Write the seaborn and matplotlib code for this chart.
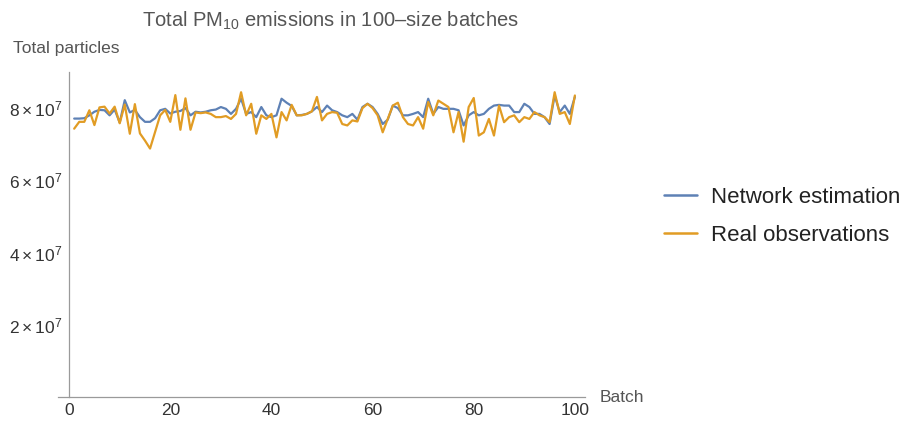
import matplotlib
matplotlib.use("Agg")
import matplotlib.pyplot as plt
import seaborn as sns
import pandas as pd
from matplotlib.ticker import MultipleLocator, FuncFormatter

# Batch index and totals (in units of 10^7 particles)
batches = list(range(1, 101))

network_1e7 = [
    7.71, 7.71, 7.72, 7.80, 7.90, 7.95, 7.94, 7.80, 7.96, 7.60,
    8.22, 7.88, 7.95, 7.75, 7.62, 7.62, 7.72, 7.94, 7.98, 7.85,
    7.90, 7.92, 8.00, 7.80, 7.90, 7.88, 7.90, 7.94, 7.96, 8.03,
    7.98, 7.84, 7.98, 8.26, 7.84, 7.89, 7.75, 8.03, 7.80, 7.75,
    7.80, 8.26, 8.15, 8.06, 7.80, 7.81, 7.84, 7.91, 8.03, 7.89,
    8.07, 7.94, 7.89, 7.80, 7.75, 7.84, 7.68, 8.03, 8.12, 8.03,
    7.84, 7.56, 7.68, 8.07, 8.00, 7.80, 7.80, 7.84, 7.89, 7.75,
    8.26, 7.84, 8.03, 7.98, 7.98, 7.98, 7.94, 7.52, 7.80, 7.89,
    7.80, 7.84, 7.98, 8.07, 8.09, 8.07, 8.07, 7.89, 7.89, 8.12,
    8.03, 7.84, 7.84, 7.75, 7.56, 8.35, 7.89, 8.07, 7.84, 8.31,
]

observed_1e7 = [
    7.43, 7.62, 7.62, 7.94, 7.53, 8.02, 8.04, 7.85, 8.04, 7.58,
    8.10, 7.29, 8.11, 7.30, 7.10, 6.88, 7.34, 7.80, 7.95, 7.62,
    8.36, 7.40, 8.27, 7.40, 7.88, 7.86, 7.88, 7.84, 7.75, 7.75,
    7.78, 7.70, 7.84, 8.44, 7.80, 8.12, 7.29, 7.80, 7.70, 7.84,
    7.19, 7.89, 7.66, 8.09, 7.80, 7.80, 7.84, 7.91, 8.31, 7.66,
    7.84, 7.89, 7.87, 7.56, 7.52, 7.66, 7.63, 8.00, 8.12, 8.00,
    7.80, 7.33, 7.70, 8.07, 8.15, 7.75, 7.56, 7.52, 7.75, 7.43,
    8.17, 7.80, 8.21, 8.12, 8.03, 7.33, 7.89, 7.07, 8.03, 8.28,
    7.24, 7.33, 7.70, 7.24, 8.07, 7.61, 7.75, 7.80, 7.61, 7.75,
    7.70, 7.89, 7.80, 7.75, 7.61, 8.44, 7.84, 7.89, 7.56, 8.35,
]

series_names = ["Network estimation", "Real observations"]
series_colors = ["#5E81B5", "#E19C24"]
SCALE = 1e7

df = pd.concat([
    pd.DataFrame({"Batch": batches,
                  "Total": [v * SCALE for v in network_1e7],
                  "Series": series_names[0]}),
    pd.DataFrame({"Batch": batches,
                  "Total": [v * SCALE for v in observed_1e7],
                  "Series": series_names[1]}),
])

sns.set_style("white")
plt.rcParams["font.family"] = ["Liberation Sans", "DejaVu Sans"]
plt.rcParams["mathtext.fontset"] = "custom"
plt.rcParams["mathtext.rm"] = "Liberation Sans"
plt.rcParams["mathtext.it"] = "Liberation Sans"

W, H = 911, 425
fig = plt.figure(figsize=(W / 100, H / 100), dpi=100)
ax = fig.add_axes([58 / W, 28 / H, 527 / W, 325 / H])

sns.lineplot(data=df, x="Batch", y="Total", hue="Series",
             palette=dict(zip(series_names, series_colors)),
             linewidth=1.6, ax=ax, legend=False)

ax.set_xlim(-2.2, 102)
ax.set_ylim(0, 9.0e7)

axis_gray = "#9a9a9a"
text_gray = "#333333"
for side in ("top", "right"):
    ax.spines[side].set_visible(False)
ax.spines["left"].set_position(("data", 0))
ax.spines["bottom"].set_position(("data", 0))
for side in ("left", "bottom"):
    ax.spines[side].set_color(axis_gray)
    ax.spines[side].set_linewidth(0.9)
ax.spines["left"].set_bounds(0, 9.0e7)

ax.xaxis.set_major_locator(MultipleLocator(20))
ax.xaxis.set_minor_locator(MultipleLocator(5))
ax.yaxis.set_major_locator(MultipleLocator(2e7))
ax.yaxis.set_minor_locator(MultipleLocator(0.5e7))


def sci_label(v, pos):
    if v <= 0:
        return ""
    return r"$%d\times10^{7}$" % round(v / 1e7)


ax.yaxis.set_major_formatter(FuncFormatter(sci_label))
ax.tick_params(axis="both", which="both", direction="in",
               color=axis_gray, labelcolor=text_gray, labelsize=12.5)
ax.tick_params(axis="both", which="major", length=5, width=0.9)
ax.tick_params(axis="both", which="minor", length=3, width=0.8)
ax.tick_params(axis="x", pad=4)
ax.tick_params(axis="y", pad=5)
ax.set_xlabel("")
ax.set_ylabel("")

fig.text(330 / W, 1 - 21 / H, r"Total PM$_{10}$ emissions in 100–size batches",
         ha="center", va="center", fontsize=14.5, color="#555555")
fig.text(13 / W, 1 - 48 / H, "Total particles",
         ha="left", va="center", fontsize=12.5, color="#555555")
fig.text(600 / W, 1 - 397 / H, "Batch",
         ha="left", va="center", fontsize=12.5, color="#555555")

handles = [plt.Line2D([], [], color=c, linewidth=1.8) for c in series_colors]
fig.legend(handles, series_names, loc="upper left",
           bbox_to_anchor=(664 / W, 1 - 187 / H), frameon=False,
           fontsize=16, handlelength=1.5, handletextpad=0.6,
           labelspacing=0.75, borderpad=0, borderaxespad=0,
           labelcolor="#222222")

fig.savefig("out.png", dpi=100)
